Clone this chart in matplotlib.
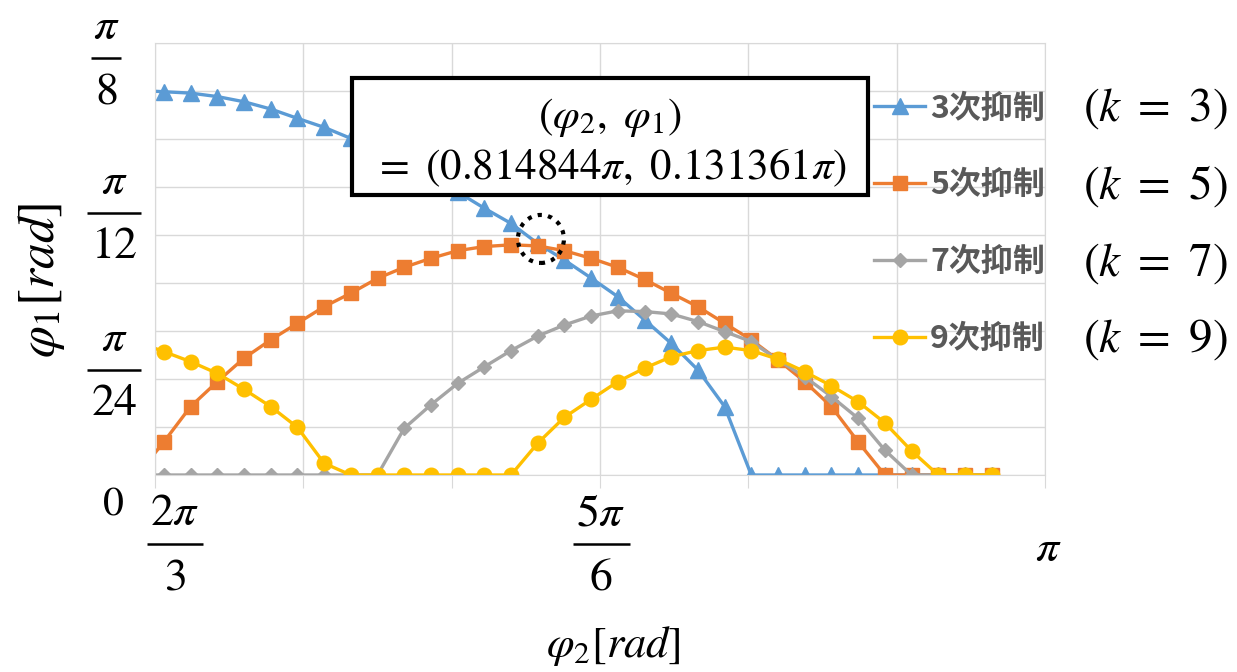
import matplotlib
matplotlib.use('Agg')
import matplotlib.pyplot as plt
from matplotlib.patches import Ellipse, Rectangle
from matplotlib.ticker import MultipleLocator
from matplotlib.transforms import offset_copy

plt.rcParams['font.family'] = ['Noto Sans CJK JP', 'DejaVu Sans']
plt.rcParams['mathtext.fontset'] = 'stix'

# phi2 in units of pi
phi2 = [0.66, 0.67, 0.68, 0.69, 0.70, 0.71, 0.72, 0.73, 0.74, 0.75, 0.76,
        0.77, 0.78, 0.79, 0.80, 0.81, 0.82, 0.83, 0.84, 0.85, 0.86, 0.87,
        0.88, 0.89, 0.90, 0.91, 0.92, 0.93, 0.94, 0.95, 0.96, 0.97, 0.98]

# phi1 in units of pi
k3 = [0.1113, 0.1109, 0.1105, 0.1095, 0.1080, 0.1059, 0.1032, 0.1006, 0.0974,
      0.0940, 0.0903, 0.0862, 0.0819, 0.0772, 0.0728, 0.0670, 0.0622, 0.0570,
      0.0516, 0.0449, 0.0381, 0.0304, 0.0198, 0.0, 0.0, 0.0, 0.0, 0.0, 0.0,
      0.0, 0.0, 0.0, 0.0]
k5 = [0.0, 0.0096, 0.0198, 0.0270, 0.0338, 0.0391, 0.0439, 0.0487, 0.0526,
      0.0569, 0.0601, 0.0627, 0.0649, 0.0661, 0.0666, 0.0663, 0.0649, 0.0627,
      0.0601, 0.0566, 0.0526, 0.0487, 0.0439, 0.0391, 0.0333, 0.0270, 0.0198,
      0.0096, 0.0, 0.0, 0.0, 0.0, 0.0]
k7 = [0.0, 0.0, 0.0, 0.0, 0.0, 0.0, 0.0, 0.0, 0.0, 0.0, 0.0135, 0.0203,
      0.0265, 0.0313, 0.0360, 0.0402, 0.0434, 0.0460, 0.0475, 0.0473, 0.0466,
      0.0444, 0.0415, 0.0386, 0.0333, 0.0284, 0.0227, 0.0164, 0.0072, 0.0,
      0.0, 0.0, 0.0]
k9 = [0.0385, 0.0357, 0.0328, 0.0294, 0.0248, 0.0198, 0.0138, 0.0034, 0.0,
      0.0, 0.0, 0.0, 0.0, 0.0, 0.0, 0.0092, 0.0167, 0.0219, 0.0270, 0.0309,
      0.0342, 0.0360, 0.0370, 0.0360, 0.0335, 0.0299, 0.0258, 0.0212, 0.0151,
      0.0070, 0.0, 0.0, 0.0]

series_labels = ['3次抑制', '5次抑制', '7次抑制', '9次抑制']
k_labels = [r'$(k\ =\ 3)$', r'$(k\ =\ 5)$', r'$(k\ =\ 7)$', r'$(k\ =\ 9)$']

# circled crossing point (plot position) and its annotated value
cross_pt = (0.8112, 0.0683)
cross_text = [r'$(\varphi_2,\ \varphi_1)$', r'$=\ (0.814844\pi,\ 0.131361\pi)$']

# tick labels: value, numerator, denominator
y_ticks = [(0.125, r'$\pi$', r'$8$'), (1 / 12, r'$\pi$', r'$12$'),
           (1 / 24, r'$\pi$', r'$24$')]
x_ticks = [(2 / 3, r'$2\pi$', r'$3$'), (5 / 6, r'$5\pi$', r'$6$')]

colors = ['#5B9BD5', '#ED7D31', '#A5A5A5', '#FFC000']
markers = ['^', 's', 'D', 'o']
msizes = [11, 10, 7, 10.5]
grid_c = '#D9D9D9'
FS = 33

fig = plt.figure(figsize=(12.37, 6.72), dpi=100)
ax = fig.add_axes([155 / 1237, 197 / 672, 890 / 1237, 432 / 672])

for ys, lab, c, m, ms in zip([k3, k5, k7, k9], series_labels, colors, markers, msizes):
    ax.plot(phi2, ys, color=c, marker=m, markersize=ms, linewidth=2.4, label=lab)

ax.set_xlim(2 / 3, 1.0)
ax.set_ylim(0, 0.125)
ax.xaxis.set_major_locator(MultipleLocator(1 / 18))
ax.yaxis.set_major_locator(MultipleLocator(0.125 / 9))
ax.grid(True, color=grid_c, linewidth=1)
ax.set_axisbelow(True)
ax.tick_params(axis='x', length=9, color=grid_c, labelbottom=False)
ax.tick_params(axis='y', length=0, labelleft=False)
for sp in ax.spines.values():
    sp.set_color(grid_c)


def fraction(base, x, y, num, den, dx, dy, bar_w, gap=32):
    # numerator / bar / denominator, offsets in pixels from (x, y)
    t_bar = offset_copy(base, fig=fig, x=dx, y=dy, units='dots')
    t_num = offset_copy(base, fig=fig, x=dx, y=dy + gap, units='dots')
    t_den = offset_copy(base, fig=fig, x=dx, y=dy - gap, units='dots')
    ax.plot([x], [y], marker='_', markersize=bar_w * 0.72, markeredgewidth=1.8,
            color='black', transform=t_bar, clip_on=False)
    ax.text(x, y, num, transform=t_num, ha='center', va='center',
            fontsize=FS, clip_on=False)
    ax.text(x, y, den, transform=t_den, ha='center', va='center',
            fontsize=FS, clip_on=False)


ybase = ax.get_yaxis_transform()
xbase = ax.get_xaxis_transform()
y_offsets = [(-49, -15, 30), (-41, -26, 54), (-41, -39, 54)]
for (v, n, d), (dx, dy, w) in zip(y_ticks, y_offsets):
    fraction(ybase, 0, v, n, d, dx, dy, w)
ax.text(0, 0, r'$0$', transform=offset_copy(ybase, fig=fig, x=-42, y=-28, units='dots'),
        ha='center', va='center', fontsize=30)

x_offsets = [(20, -69, 56), (1, -69, 57)]
for (v, n, d), (dx, dy, w) in zip(x_ticks, x_offsets):
    fraction(xbase, v, 0, n, d, dx, dy, w)
ax.text(1.0, 0, r'$\pi$', transform=offset_copy(xbase, fig=fig, x=3, y=-73, units='dots'),
        ha='center', va='center', fontsize=FS)

fig.text(40 / 1237, 1 - 280 / 672, r'$\varphi_1[rad]$', rotation=90,
         ha='center', va='center', fontsize=37)
fig.text(613 / 1237, 1 - 645 / 672, r'$\varphi_2[rad]$',
         ha='center', va='center', fontsize=32)

# annotation box
ax.add_patch(Rectangle((0.2213, 0.648), 0.5797, 0.271, transform=ax.transAxes,
                       facecolor='white', edgecolor='black', linewidth=3,
                       zorder=5))
ax.text(0.511, 0.829, cross_text[0], transform=ax.transAxes, ha='center',
        va='center', fontsize=31, zorder=6)
ax.text(0.511, 0.713, cross_text[1], transform=ax.transAxes, ha='center',
        va='center', fontsize=31, zorder=6)

ax.add_patch(Ellipse(cross_pt, width=0.01723, height=0.01389, fill=False,
                     edgecolor='black', linewidth=3, linestyle=(0, (1, 1.5)),
                     zorder=7))

leg = ax.legend(loc='upper right', bbox_to_anchor=(1.0, 0.885), frameon=False,
                fontsize=23, handlelength=1.6, handletextpad=0.15,
                labelspacing=1.4, borderpad=0, borderaxespad=0, numpoints=1)
for txt in leg.get_texts():
    txt.set_color('#595959')
    txt.set_fontweight('bold')

ky = [107, 185, 262, 338]
for y, t in zip(ky, k_labels):
    fig.text(1155 / 1237, 1 - y / 672, t, ha='center', va='center', fontsize=34)

fig.savefig('out.png', dpi=100)
